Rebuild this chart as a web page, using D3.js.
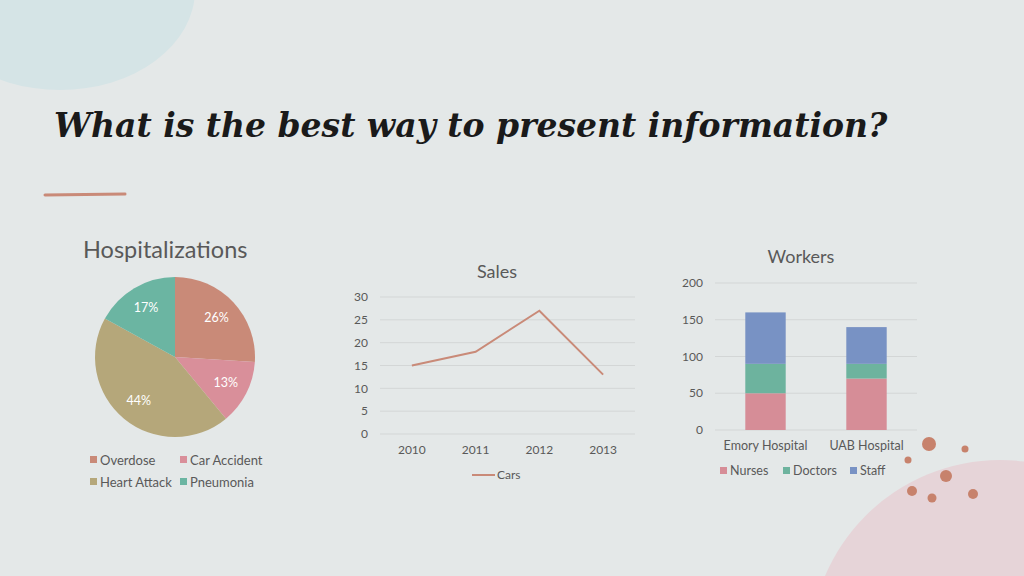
<!DOCTYPE html>
<html><head><meta charset="utf-8">
<script src="https://cdn.jsdelivr.net/npm/d3@7"></script>
<style>body{margin:0;background:#e4e8e8}svg{display:block}text{font-family:Lato,"Noto Sans",sans-serif}</style>
</head><body><svg id="slide" width="1024" height="576"></svg>
<script>
const pieLabels = ["Overdose", "Car Accident", "Heart Attack", "Pneumonia"];
const pieValues = [26, 13, 44, 17];
const pieColors = ["#c98a78", "#d98f9a", "#b5a77a", "#6bb5a2"];

const salesYears = ["2010", "2011", "2012", "2013"];
const salesCars = [15, 18, 27, 13];

const hospitals = ["Emory Hospital", "UAB Hospital"];
const workerSeries = ["Nurses", "Doctors", "Staff"];
const nurses = [50, 70];
const doctors = [40, 20];
const staff = [70, 50];
const workerColors = ["#d68d97", "#6db39e", "#7892c4"];

const svg = d3.select("#slide");
const grey = "#595959";

// decorations
svg.append("ellipse").attr("cx", 60).attr("cy", -10).attr("rx", 135).attr("ry", 100).attr("fill", "#d5e4e6");
svg.append("circle").attr("cx", 1000).attr("cy", 650).attr("r", 190).attr("fill", "#e6d4d8");
[[929, 444, 7], [965, 449, 3.5], [908, 460, 3.5], [912, 491, 5], [932, 498, 4.5], [973, 494, 5], [946, 476, 6]]
  .forEach(d => svg.append("circle").attr("cx", d[0]).attr("cy", d[1]).attr("r", d[2]).attr("fill", "#c7826c"));
svg.append("line").attr("x1", 45).attr("x2", 125).attr("y1", 195).attr("y2", 194)
  .attr("stroke", "#c98a78").attr("stroke-width", 3).attr("stroke-linecap", "round");

svg.append("text").attr("x", 54).attr("y", 137).text("What is the best way to present information?")
  .style("font-family", "'DejaVu Serif',serif").style("font-style", "italic").style("font-weight", "bold")
  .style("font-size", "33px").attr("fill", "#1a1a1a");

// ---- pie
const pg = svg.append("g").attr("transform", "translate(175,357)");
svg.append("text").attr("x", 83).attr("y", 258).text("Hospitalizations").attr("fill", grey).style("font-size", "23.5px");
const arcs = d3.pie().sort(null)(pieValues);
const arc = d3.arc().innerRadius(0).outerRadius(80);
const labArc = d3.arc().innerRadius(57).outerRadius(57);
pg.selectAll("path").data(arcs).join("path").attr("d", arc).attr("fill", (d, i) => pieColors[i]);
pg.selectAll("text").data(arcs).join("text")
  .attr("transform", d => `translate(${labArc.centroid(d)})`).attr("dy", "0.35em")
  .attr("text-anchor", "middle").attr("fill", "#fff").style("font-size", "12.5px")
  .text(d => d.data + "%");
const pl = svg.append("g");
pieLabels.forEach((l, i) => {
  const x = 90 + (i % 2) * 90, y = 460 + Math.floor(i / 2) * 22;
  pl.append("rect").attr("x", x).attr("y", y - 4).attr("width", 7).attr("height", 7).attr("fill", pieColors[i]);
  pl.append("text").attr("x", x + 10).attr("y", y).attr("dy", "0.35em").text(l).attr("fill", grey).style("font-size", "13px");
});

// ---- line chart
const lx = d3.scalePoint().domain(salesYears).range([380, 635]).padding(0.5);
const ly = d3.scaleLinear().domain([0, 30]).range([434, 297]);
svg.append("text").attr("x", 497).attr("y", 278).attr("text-anchor", "middle").text("Sales").attr("fill", grey).style("font-size", "18px");
const lg = svg.append("g");
ly.ticks(6).forEach(t => {
  lg.append("line").attr("x1", 380).attr("x2", 635).attr("y1", ly(t)).attr("y2", ly(t)).attr("stroke", "#d3d6d6");
  lg.append("text").attr("x", 368).attr("y", ly(t)).attr("dy", "0.35em").attr("text-anchor", "end").text(t).attr("fill", grey).style("font-size", "12px");
});
salesYears.forEach(y => lg.append("text").attr("x", lx(y)).attr("y", 454).attr("text-anchor", "middle").text(y).attr("fill", grey).style("font-size", "12px"));
lg.append("path").datum(salesCars).attr("fill", "none").attr("stroke", "#c98a78").attr("stroke-width", 2)
  .attr("d", d3.line().x((d, i) => lx(salesYears[i])).y(d => ly(d)));
lg.append("line").attr("x1", 472).attr("x2", 495).attr("y1", 475).attr("y2", 475).attr("stroke", "#c98a78").attr("stroke-width", 2);
lg.append("text").attr("x", 497).attr("y", 475).attr("dy", "0.35em").text("Cars").attr("fill", grey).style("font-size", "12px");

// ---- stacked bars
const bx = d3.scaleBand().domain(hospitals).range([715, 917]).paddingInner(0.6).paddingOuter(0.3);
const by = d3.scaleLinear().domain([0, 200]).range([430, 283]);
svg.append("text").attr("x", 801).attr("y", 263).attr("text-anchor", "middle").text("Workers").attr("fill", grey).style("font-size", "18px");
const bg = svg.append("g");
by.ticks(4).forEach(t => {
  bg.append("line").attr("x1", 715).attr("x2", 917).attr("y1", by(t)).attr("y2", by(t)).attr("stroke", "#d3d6d6");
  bg.append("text").attr("x", 703).attr("y", by(t)).attr("dy", "0.35em").attr("text-anchor", "end").text(t).attr("fill", grey).style("font-size", "12px");
});
const rows = hospitals.map((h, i) => ({ h, Nurses: nurses[i], Doctors: doctors[i], Staff: staff[i] }));
d3.stack().keys(workerSeries)(rows).forEach((s, k) => {
  bg.selectAll(null).data(s).join("rect").attr("x", d => bx(d.data.h)).attr("width", bx.bandwidth())
    .attr("y", d => by(d[1])).attr("height", d => by(d[0]) - by(d[1])).attr("fill", workerColors[k]);
});
hospitals.forEach(h => bg.append("text").attr("x", bx(h) + bx.bandwidth() / 2).attr("y", 450).attr("text-anchor", "middle").text(h).attr("fill", grey).style("font-size", "12.5px"));
[720, 783, 850].forEach((x, i) => {
  bg.append("rect").attr("x", x).attr("y", 467).attr("width", 7).attr("height", 7).attr("fill", workerColors[i]);
  bg.append("text").attr("x", x + 10).attr("y", 471).attr("dy", "0.35em").text(workerSeries[i]).attr("fill", grey).style("font-size", "12.5px");
});
</script></body></html>
